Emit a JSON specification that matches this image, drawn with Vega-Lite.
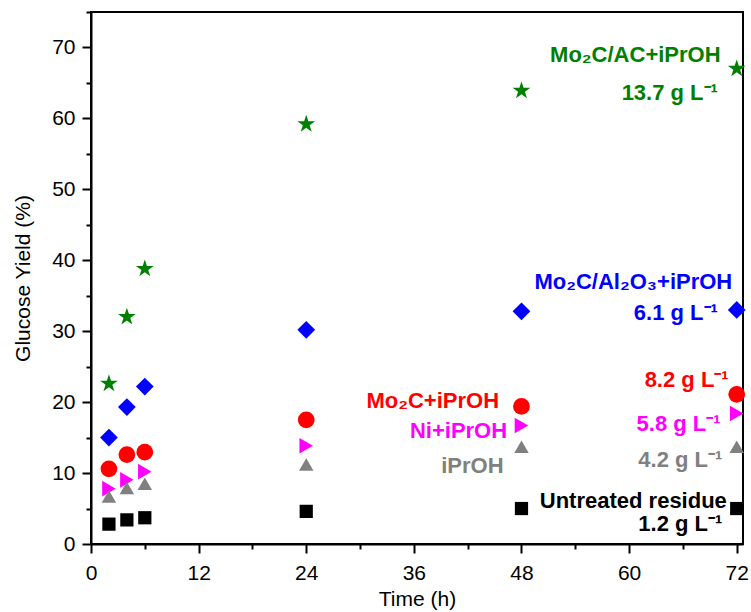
{
  "$schema": "https://vega.github.io/schema/vega-lite/v6.json",
  "width": 652,
  "height": 532,
  "autosize": {"type": "none"},
  "padding": {"left": 91, "top": 12, "right": 8, "bottom": 68},
  "background": "white",
  "config": {
    "font": "Liberation Sans",
    "view": {"stroke": "black", "strokeWidth": 2},
    "axis": {
      "domainColor": "black", "domainWidth": 2, "tickColor": "black", "tickWidth": 2,
      "grid": false, "labelFont": "Liberation Sans", "labelFontSize": 21, "labelColor": "black",
      "titleFont": "Liberation Sans", "titleFontSize": 21, "titleFontWeight": "normal", "titleColor": "black"
    }
  },
  "datasets": {
    "pts": [
      {"series": "Mo2C/AC+iPrOH", "hours": 2, "glucose": 22.6},
      {"series": "Mo2C/AC+iPrOH", "hours": 4, "glucose": 32.0},
      {"series": "Mo2C/AC+iPrOH", "hours": 6, "glucose": 38.8},
      {"series": "Mo2C/AC+iPrOH", "hours": 24, "glucose": 59.2},
      {"series": "Mo2C/AC+iPrOH", "hours": 48, "glucose": 63.9},
      {"series": "Mo2C/AC+iPrOH", "hours": 72, "glucose": 67.0},
      {"series": "Mo2C/Al2O3+iPrOH", "hours": 2, "glucose": 15.0},
      {"series": "Mo2C/Al2O3+iPrOH", "hours": 4, "glucose": 19.3},
      {"series": "Mo2C/Al2O3+iPrOH", "hours": 6, "glucose": 22.2},
      {"series": "Mo2C/Al2O3+iPrOH", "hours": 24, "glucose": 30.2},
      {"series": "Mo2C/Al2O3+iPrOH", "hours": 48, "glucose": 32.8},
      {"series": "Mo2C/Al2O3+iPrOH", "hours": 72, "glucose": 33.0},
      {"series": "Mo2C+iPrOH", "hours": 2, "glucose": 10.6},
      {"series": "Mo2C+iPrOH", "hours": 4, "glucose": 12.6},
      {"series": "Mo2C+iPrOH", "hours": 6, "glucose": 12.95},
      {"series": "Mo2C+iPrOH", "hours": 24, "glucose": 17.5},
      {"series": "Mo2C+iPrOH", "hours": 48, "glucose": 19.4},
      {"series": "Mo2C+iPrOH", "hours": 72, "glucose": 21.1},
      {"series": "Ni+iPrOH", "hours": 2, "glucose": 7.8},
      {"series": "Ni+iPrOH", "hours": 4, "glucose": 9.05},
      {"series": "Ni+iPrOH", "hours": 6, "glucose": 10.2},
      {"series": "Ni+iPrOH", "hours": 24, "glucose": 13.85},
      {"series": "Ni+iPrOH", "hours": 48, "glucose": 16.7},
      {"series": "Ni+iPrOH", "hours": 72, "glucose": 18.4},
      {"series": "iPrOH", "hours": 2, "glucose": 6.7},
      {"series": "iPrOH", "hours": 4, "glucose": 7.9},
      {"series": "iPrOH", "hours": 6, "glucose": 8.5},
      {"series": "iPrOH", "hours": 24, "glucose": 11.2},
      {"series": "iPrOH", "hours": 48, "glucose": 13.7},
      {"series": "iPrOH", "hours": 72, "glucose": 13.7},
      {"series": "Untreated residue", "hours": 2, "glucose": 2.8},
      {"series": "Untreated residue", "hours": 4, "glucose": 3.4},
      {"series": "Untreated residue", "hours": 6, "glucose": 3.7},
      {"series": "Untreated residue", "hours": 24, "glucose": 4.6},
      {"series": "Untreated residue", "hours": 48, "glucose": 5.0},
      {"series": "Untreated residue", "hours": 72, "glucose": 5.0}
    ],
    "ann": [
      {"series": "Mo2C/AC+iPrOH", "text": "Mo₂C/AC+iPrOH", "hours": 70.2, "glucose": 68.0},
      {"series": "Mo2C/AC+iPrOH", "text": "13.7 g L⁻¹", "hours": 69.9, "glucose": 62.6},
      {"series": "Mo2C/Al2O3+iPrOH", "text": "Mo₂C/Al₂O₃+iPrOH", "hours": 71.5, "glucose": 36.0},
      {"series": "Mo2C/Al2O3+iPrOH", "text": "6.1 g L⁻¹", "hours": 69.9, "glucose": 31.6},
      {"series": "Mo2C+iPrOH", "text": "8.2 g L⁻¹", "hours": 71.1, "glucose": 22.2},
      {"series": "Mo2C+iPrOH", "text": "Mo₂C+iPrOH", "hours": 45.5, "glucose": 19.2},
      {"series": "Ni+iPrOH", "text": "Ni+iPrOH", "hours": 46.4, "glucose": 14.9},
      {"series": "Ni+iPrOH", "text": "5.8 g L⁻¹", "hours": 70.2, "glucose": 15.9},
      {"series": "iPrOH", "text": "iPrOH", "hours": 46.0, "glucose": 10.0},
      {"series": "iPrOH", "text": "4.2 g L⁻¹", "hours": 70.4, "glucose": 10.9},
      {"series": "Untreated residue", "text": "Untreated residue", "hours": 70.9, "glucose": 5.07},
      {"series": "Untreated residue", "text": "1.2 g L⁻¹", "hours": 70.4, "glucose": 1.78}
    ]
  },
  "resolve": {"axis": {"x": "independent", "y": "independent"}},
  "layer": [
    {
      "data": {"name": "pts"},
      "mark": {"type": "point", "opacity": 0},
      "encoding": {
        "x": {
          "field": "hours", "type": "quantitative",
          "scale": {"domain": [0, 72.7], "nice": false, "zero": false},
          "axis": {"orient": "bottom", "title": null, "values": [6, 18, 30, 42, 54, 66], "labels": false, "domain": false, "tickSize": 5}
        },
        "y": {
          "field": "glucose", "type": "quantitative",
          "scale": {"domain": [0, 75], "nice": false},
          "axis": {"orient": "left", "title": null, "values": [5, 15, 25, 35, 45, 55, 65, 75], "labels": false, "domain": false, "tickSize": 5}
        }
      }
    },
    {
      "data": {"name": "pts"},
      "mark": {"type": "point", "filled": true, "opacity": 1},
      "encoding": {
        "x": {
          "field": "hours", "type": "quantitative",
          "axis": {
            "orient": "bottom", "title": "Time (h)",
            "values": [0, 12, 24, 36, 48, 60, 72],
            "tickSize": 9, "labelPadding": 9, "titlePadding": 5, "labelFlush": false
          }
        },
        "y": {
          "field": "glucose", "type": "quantitative",
          "axis": {
            "orient": "left", "title": "Glucose Yield (%)",
            "values": [0, 10, 20, 30, 40, 50, 60, 70],
            "tickSize": 9, "labelPadding": 7, "titlePadding": 18, "labelFlush": false
          }
        },
        "shape": {
          "field": "series", "type": "nominal", "legend": null,
          "scale": {
            "domain": ["Mo2C/AC+iPrOH", "Mo2C/Al2O3+iPrOH", "Mo2C+iPrOH", "Ni+iPrOH", "iPrOH", "Untreated residue"],
            "range": ["M0,-1L0.2245,-0.309L0.951,-0.309L0.363,0.118L0.588,0.809L0,0.382L-0.588,0.809L-0.363,0.118L-0.951,-0.309L-0.2245,-0.309Z", "diamond", "circle", "triangle-right", "triangle-up", "square"]
          }
        },
        "size": {
          "field": "series", "type": "nominal", "legend": null,
          "scale": {
            "domain": ["Mo2C/AC+iPrOH", "Mo2C/Al2O3+iPrOH", "Mo2C+iPrOH", "Ni+iPrOH", "iPrOH", "Untreated residue"],
            "range": [350, 175, 100, 130, 140, 88]
          }
        },
        "color": {
          "field": "series", "type": "nominal", "legend": null,
          "scale": {
            "domain": ["Mo2C/AC+iPrOH", "Mo2C/Al2O3+iPrOH", "Mo2C+iPrOH", "Ni+iPrOH", "iPrOH", "Untreated residue"],
            "range": ["#008000", "#0000ff", "#ff0000", "#ff00ff", "#808080", "#000000"]
          }
        }
      }
    },
    {
      "data": {"name": "ann"},
      "mark": {"type": "text", "align": "right", "baseline": "alphabetic", "fontSize": 22, "fontWeight": "bold", "font": "Liberation Sans"},
      "encoding": {
        "x": {"field": "hours", "type": "quantitative", "axis": null},
        "y": {"field": "glucose", "type": "quantitative", "axis": null},
        "text": {"field": "text"},
        "color": {"field": "series", "type": "nominal", "legend": null}
      }
    }
  ]
}
